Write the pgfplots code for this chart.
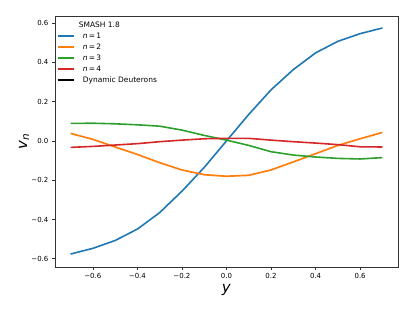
\documentclass[border=0pt]{standalone}
\usepackage{fontspec}
\setmainfont{DejaVu Sans}
\usepackage{pgfplots}
\pgfplotsset{compat=1.18}
\definecolor{tabblue}{HTML}{1F77B4}
\definecolor{taborange}{HTML}{FF7F0E}
\definecolor{tabgreen}{HTML}{2CA02C}
\definecolor{tabred}{HTML}{D62728}
\begin{document}
\begin{tikzpicture}
\begin{axis}[
  scale only axis=true,
  width=343bp, height=251bp,
  xmin=-0.77, xmax=0.77,
  ymin=-0.642, ymax=0.636,
  axis line style={black!80, line width=0.8bp},
  tick align=outside,
  tick style={black!80, line width=0.7bp},
  major tick length=3.2bp,
  xtick={-0.6,-0.4,-0.2,0,0.2,0.4,0.6},
  xticklabels={−0.6,−0.4,−0.2,0.0,0.2,0.4,0.6},
  ytick={-0.6,-0.4,-0.2,0,0.2,0.4,0.6},
  yticklabels={−0.6,−0.4,−0.2,0.0,0.2,0.4,0.6},
  xtick pos=bottom, ytick pos=left,
  ticklabel style={font=\fontsize{7}{8}\selectfont, inner sep=0pt},
  xticklabel style={yshift=-3.2bp},
  yticklabel style={xshift=-3.2bp},
  xlabel={\textit{y}},
  ylabel={\textit{v}\textsubscript{\textit{n}}},
  label style={font=\fontsize{15}{16}\selectfont, inner sep=0pt},
  xlabel style={at={(axis description cs:0.5,0)}, anchor=base, yshift=-25bp},
  ylabel style={at={(axis description cs:0,0.5)}, anchor=base, yshift=28bp},
  legend cell align=left,
  legend style={draw=none, fill=none, at={(0,1)}, anchor=north west,
    xshift=1.5bp, yshift=-5.5bp, inner sep=0pt, row sep=3.7bp, column sep=8.5bp,
    font=\fontsize{7.5}{8}\selectfont,
    nodes={inner sep=0pt, text height=5.8bp, text depth=1.5bp}},
  legend image code/.code={\draw[#1, line width=1.7bp] (0bp,0bp) -- (16bp,0bp);},
]
\addlegendimage{empty legend}
\addlegendentry{\hspace*{-4bp}SMASH 1.8}
\addplot[tabblue, line width=1.6bp] coordinates {
(-0.7,-0.576) (-0.6,-0.547) (-0.5,-0.507) (-0.4,-0.449) (-0.3,-0.365)
(-0.2,-0.256) (-0.1,-0.135) (0.0,0.0) (0.1,0.135) (0.2,0.26)
(0.3,0.363) (0.4,0.448) (0.5,0.507) (0.6,0.546) (0.7,0.575)};
\addlegendentry{\textit{n}\,=\,1}
\addplot[taborange, line width=1.7bp] coordinates {
(-0.7,0.038) (-0.6,0.008) (-0.5,-0.031) (-0.4,-0.069) (-0.3,-0.111)
(-0.2,-0.148) (-0.1,-0.172) (0.0,-0.18) (0.1,-0.175) (0.2,-0.148)
(0.3,-0.107) (0.4,-0.065) (0.5,-0.023) (0.6,0.011) (0.7,0.043)};
\addlegendentry{\textit{n}\,=\,2}
\addplot[tabgreen, line width=1.6bp] coordinates {
(-0.7,0.089) (-0.6,0.09) (-0.5,0.087) (-0.4,0.082) (-0.3,0.075)
(-0.2,0.055) (-0.1,0.028) (0.0,0.004) (0.1,-0.023) (0.2,-0.055)
(0.3,-0.072) (0.4,-0.082) (0.5,-0.089) (0.6,-0.092) (0.7,-0.085)};
\addlegendentry{\textit{n}\,=\,3}
\addplot[tabred, line width=1.6bp] coordinates {
(-0.7,-0.033) (-0.6,-0.028) (-0.5,-0.021) (-0.4,-0.014) (-0.3,-0.004)
(-0.2,0.004) (-0.1,0.011) (0.0,0.013) (0.1,0.013) (0.2,0.004)
(0.3,-0.004) (0.4,-0.011) (0.5,-0.019) (0.6,-0.03) (0.7,-0.031)};
\addlegendentry{\textit{n}\,=\,4}
\addlegendimage{black}
\addlegendentry{Dynamic Deuterons}
\end{axis}
\pgfresetboundingbox
\path (-55bp,-44bp) rectangle (360bp,267bp);
\end{tikzpicture}
\end{document}
